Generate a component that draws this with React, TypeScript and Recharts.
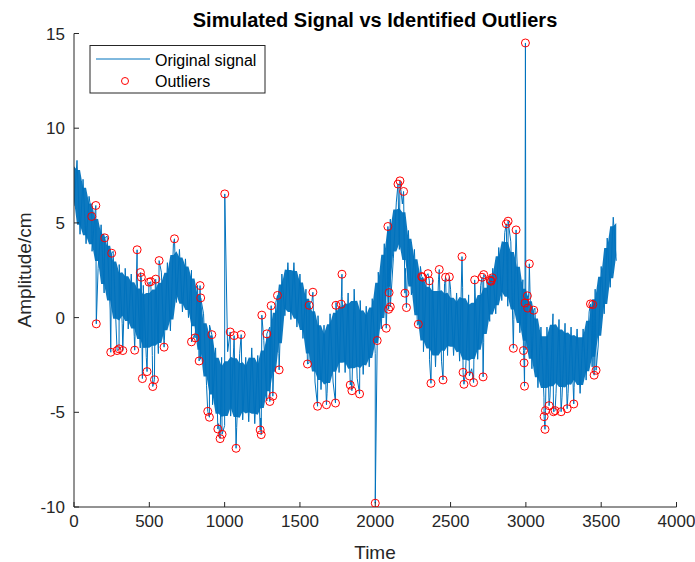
import React from 'react';
import { ComposedChart, Area, Line, Scatter, XAxis, YAxis } from 'recharts';

// signal, one value every 20 time units (0..3600)
const SAMPLE_STEP = 20;
const signalValues = [
  5.9, 8.3, 4.4, 7.3, 3.9, 6.4, 3.5, 5.6, 2.6, 4.9,
  1.3, 4.3, 0.4, 3.5, -0.6, 2.8, -0.3, 2.6, -0.6, 2.3,
  -1.0, 2.0, -1.6, 1.7, -2.1, 1.8, -2.0, 2.0, -1.9, 2.4,
  -1.2, 2.9, -0.7, 3.9, 0.8, 3.6, 0.3, 3.1, 0.0, 2.5,
  -0.9, 1.7, -2.2, 0.2, -3.6, -0.4, -4.6, -1.6, -5.6, -2.1,
  -5.7, -1.8, -5.2, -1.6, -5.8, -1.9, -5.4, -2.1, -5.5, -1.6,
  -5.6, -2.0, -5.3, -1.2, -4.4, -0.5, -3.4, 0.8, -1.9, 2.3,
  0.1, 2.9, -0.1, 2.9, -0.5, 2.3, -1.1, 1.5, -2.4, 0.9,
  -3.4, 0.1, -3.8, -0.4, -4.0, 0.2, -3.4, 0.8, -2.9, 1.1,
  -2.9, 1.3, -3.3, 1.5, -3.2, 0.9, -3.0, 0.6, -2.6, 1.0,
  -1.9, 2.4, -0.6, 3.9, 1.1, 5.2, 3.1, 6.1, 3.6, 6.0,
  2.6, 4.6, 1.2, 3.6, -0.4, 2.7, -1.8, 2.2, -2.2, 2.0,
  -2.6, 2.0, -2.3, 1.8, -2.0, 1.5, -2.0, 1.3, -2.3, 1.6,
  -2.8, 1.2, -2.7, 1.3, -2.2, 1.7, -1.3, 2.0, -0.2, 2.6,
  0.2, 3.7, 0.9, 4.5, 0.6, 4.0, -0.1, 3.2, -0.8, 2.0,
  -1.7, 1.4, -2.7, 0.5, -3.7, -0.5, -4.2, -0.5, -4.2, 0.2,
  -4.0, -0.1, -4.2, -0.3, -4.0, -0.5, -3.7, -0.6, -4.0, -0.6,
  -3.3, 0.3, -2.6, 1.5, -1.5, 2.7, 0.2, 4.2, 1.6, 5.3,
  3.0,
];

const outlierTimes = [
  118, 145, 148, 204, 244, 250, 286, 299, 324, 403, 419, 441, 447, 454, 485, 498, 510, 523, 534, 543,
  565, 598, 667, 780, 804, 831, 837, 841, 888, 899, 915, 955, 970, 983, 1001, 1037, 1063, 1076, 1110,
  1236, 1243, 1247, 1280, 1300, 1309, 1320, 1351, 1362, 1550, 1561, 1586, 1617, 1676, 1736, 1739, 1774,
  1779, 1834, 1845, 1896, 2000, 2013, 2073, 2084, 2089, 2092, 2100, 2151, 2164, 2188, 2197, 2207, 2286,
  2308, 2314, 2350, 2359, 2370, 2425, 2450, 2467, 2492, 2576, 2583, 2589, 2625, 2653, 2660, 2709, 2716,
  2720, 2764, 2769, 2777, 2870, 2882, 2917, 2935, 2984, 2988, 2991, 2994, 2997, 3010, 3012, 3023, 3052,
  3121, 3127, 3130, 3154, 3183, 3194, 3234, 3274, 3318, 3429, 3444, 3453, 3466,
];
const outlierValues = [
  5.34, 5.92, -0.33, 4.21, -1.83, 3.4, -1.74, -1.65, -1.74, -1.72, 3.58, 2.38, 2.13, -3.22, -2.85, 1.87, 1.9, -3.64, -3.28, 2.03,
  3.01, -1.56, 4.16, -1.28, -1.07, -2.29, 1.69, 1.04, -4.95, -5.26, -0.9, -5.88, -6.39, -6.16, 6.53, -0.76, -0.95, -6.9, -0.9,
  -5.93, -6.18, 0.13, -0.86, -4.43, 0.63, -4.15, 1.17, -2.76, -2.45, 0.65, 1.34, -4.68, -4.6, -4.51, 0.65, 0.71,
  2.29, -3.56, -3.86, -4.03, -9.8, -1.21, -0.56, 4.81, 0.44, 1.32, 0.57, 7.05, 7.22, 6.66, 1.29, 0.53, -0.35,
  2.17, 2.13, 2.32, 1.94, -3.47, 2.54, -3.29, 2.13, 2.15, 3.22, -2.89, -3.52, -3.08, -3.43, 1.99, 2.13, -3.13,
  2.27, 1.97, 1.92, 2.1, 4.95, 5.09, -1.62, 4.63, -1.74, -2.39, -3.62, 0.77, 14.5, 1.15, 0.5, 2.84, 0.39,
  -5.23, -5.9, -4.91, -4.65, -4.97, -4.91, -4.97, -4.81, -4.56, 0.72, 0.69, -3.04, -2.78,
];

const xTicks = [0, 500, 1000, 1500, 2000, 2500, 3000, 3500, 4000];
const yTicks = [-10, -5, 0, 5, 10, 15];

const outlierData = outlierTimes.map((t, i) => ({ t, v: outlierValues[i] }));
const signalData = signalValues
  .map((v, i) => ({ t: i * SAMPLE_STEP, v }))
  .concat(outlierData)
  .sort((a, b) => a.t - b.t);

// dense core of the noise: inner part of the span of each sample and its neighbours
const bandData = signalValues.map((v, i) => {
  const near = signalValues.slice(Math.max(0, i - 1), i + 2);
  const lo = Math.min(...near);
  const hi = Math.max(...near);
  const trim = (hi - lo) * 0.13;
  return { t: i * SAMPLE_STEP, band: [lo + trim, hi - trim] };
});

const AXIS = '#262626';
const BLUE = '#0072BD';
const FONT = '"Liberation Sans", Arial, Helvetica, sans-serif';

const Ring = (props: any) => (
  <circle cx={props.cx} cy={props.cy} r={4} fill="none" stroke="#FF0000" strokeWidth={1} />
);

export default function App() {
  return (
    <div style={{ position: 'absolute', left: 0, top: 0, width: 695, height: 562, fontFamily: FONT, background: '#fff' }}>
      <ComposedChart width={695} height={562} margin={{ top: 33.5, right: 18.5, bottom: 0, left: 0 }}>
        <XAxis xAxisId="b" type="number" dataKey="t" domain={[0, 4000]} ticks={xTicks} height={55}
          tickSize={-5} tickMargin={13} stroke={AXIS} allowDataOverflow
          tick={{ fill: AXIS, fontSize: 17, fontFamily: FONT }} />
        <XAxis xAxisId="t" orientation="top" type="number" dataKey="t" domain={[0, 4000]} ticks={xTicks}
          height={0} tickSize={-5} tick={false} stroke={AXIS} />
        <YAxis yAxisId="l" type="number" domain={[-10, 15]} ticks={yTicks} width={74}
          tickSize={-5} tickMargin={14} stroke={AXIS} allowDataOverflow
          tick={{ fill: AXIS, fontSize: 17, fontFamily: FONT }} />
        <YAxis yAxisId="r" orientation="right" type="number" domain={[-10, 15]} ticks={yTicks} width={0}
          tickSize={-5} tick={false} stroke={AXIS} />
        <Area xAxisId="b" yAxisId="l" data={bandData} dataKey="band" type="linear" stroke="none"
          fill={BLUE} fillOpacity={0.95} isAnimationActive={false} />
        <Line xAxisId="b" yAxisId="l" data={signalData} dataKey="v" type="linear" stroke={BLUE}
          strokeWidth={1} dot={false} isAnimationActive={false} />
        <Scatter xAxisId="b" yAxisId="l" data={outlierData} dataKey="v" shape={Ring} isAnimationActive={false} />
      </ComposedChart>
      <svg width={695} height={562} style={{ position: 'absolute', left: 0, top: 0, pointerEvents: 'none' }}>
        <text x={375} y={27} textAnchor="middle" fontSize={20} fontWeight="bold" fill="#000" fontFamily={FONT}>
          Simulated Signal vs Identified Outliers
        </text>
        <text x={375} y={559} textAnchor="middle" fontSize={19} fill={AXIS} fontFamily={FONT}>Time</text>
        <text transform="translate(31,270) rotate(-90)" textAnchor="middle" fontSize={19} fill={AXIS} fontFamily={FONT}>
          Amplitude/cm
        </text>
        <rect x={90} y={45.5} width={175} height={47.5} fill="#fff" stroke={AXIS} strokeWidth={1} />
        <line x1={96} y1={59} x2={150} y2={59} stroke={BLUE} strokeWidth={1} />
        <text x={155} y={65.5} fontSize={16} fill="#000" fontFamily={FONT}>Original signal</text>
        <circle cx={125} cy={81} r={3.5} fill="none" stroke="#FF0000" strokeWidth={1} />
        <text x={155} y={87} fontSize={16} fill="#000" fontFamily={FONT}>Outliers</text>
      </svg>
    </div>
  );
}
